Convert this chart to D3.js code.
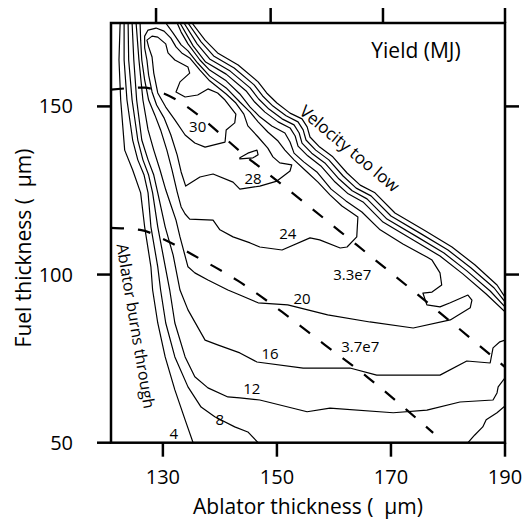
<!DOCTYPE html>
<html><head><meta charset="utf-8">
<script src="https://cdn.jsdelivr.net/npm/d3@7"></script>
<style>body{margin:0;background:#fff}text{font-family:"Open Sans",sans-serif;fill:#000}</style>
</head><body>
<svg id="chart" width="523" height="529"></svg>
<script>
// ---- axes / ticks ----
const xDomain = [120.9, 190];
const yDomain = [50, 174.8];
const xTicks = [130, 150, 170, 190];
const yTicks = [50, 100, 150];
const topTicks = [128.8, 148.9, 168.6, 190];
const rightTicks = [100, 150];

// ---- yield contours (ablator µm, fuel µm) ----
const c4Left = [[122.5,174.8],[122.3,163.8],[122.6,151.9],[123.3,137.0],[124.7,131.1],[126.1,124.3],[126.8,114.2],[127.9,102.3],[128.2,95.4],[129.1,85.6],[130.4,75.5],[132.1,65.7],[133.9,56.8],[135.3,50]];
const c4Upper = [[135.1,174.8],[137.4,169.7],[139.6,165.9],[143.2,162.3],[146.7,157.3],[148.2,154.0],[150.0,151.0],[152.3,148.0],[154.4,146.3],[155.3,143.9],[155.8,140.9],[157.5,137.9],[159.8,135.0],[162.3,130.2],[164.6,126.6],[167.2,124.3],[170.7,118.3],[176.0,113.0],[180.7,108.2],[184.7,102.9],[188.6,96.9],[190,93.3]];
const c8Left = [[123.2,174.8],[123.2,163.8],[123.7,151.9],[124.7,140.0],[125.6,134.1],[126.7,129.6],[127.4,124.3],[127.9,114.2],[129.1,102.3],[129.6,95.4],[130.5,85.6],[132.1,75.5],[134.4,66.6],[136.7,60.6],[139.1,57.7],[142.6,54.7],[144.9,53.2],[146.7,50]];
const c8Right = [[183.5,50],[184.7,52.3],[186.1,54.7],[186.7,56.8],[188.6,58.9],[190,60.9]];
const c8Upper = [[134.4,174.8],[136.7,169.2],[138.9,165.0],[142.5,161.4],[146.0,156.4],[147.5,153.1],[149.3,150.1],[151.6,147.2],[153.7,145.4],[154.6,143.0],[155.1,140.0],[156.8,137.0],[159.1,134.1],[161.6,129.3],[163.9,125.7],[166.5,123.4],[170.0,117.4],[175.3,112.1],[180.0,107.3],[184.0,102.0],[188.1,96.0],[190,91.9]];
const c12Main = [[123.9,174.8],[124.0,163.8],[124.6,151.9],[125.6,140.0],[126.5,134.1],[127.5,129.6],[128.2,124.3],[129.1,114.2],[130.2,104.3],[131.2,95.4],[132.1,85.6],[133.9,75.5],[135.6,69.6],[137.9,66.3],[141.4,63.6],[143.5,63.3],[147.0,62.7],[155.3,59.2],[159.3,60.3],[170.4,58.9],[176.3,59.7],[182.1,62.1],[187.9,62.7],[188.6,64.8],[188.8,66.6],[190,69.3]];
const c12Upper = [[133.7,174.8],[136.0,168.6],[138.2,164.1],[141.8,160.5],[145.3,155.5],[146.8,152.2],[148.6,149.2],[150.9,146.3],[153.0,144.5],[153.9,142.1],[154.4,139.1],[156.1,136.1],[158.4,133.2],[160.9,128.4],[163.2,124.9],[165.8,122.5],[169.3,116.5],[174.6,111.2],[179.3,106.4],[183.3,101.1],[187.4,95.1],[190,90.4]];
const c16Main = [[124.6,174.8],[124.9,163.8],[125.4,151.9],[126.3,140.0],[127.4,134.1],[128.4,129.6],[129.1,124.3],[130.4,114.2],[131.8,105.8],[133.0,95.4],[134.4,89.5],[137.4,80.5],[139.6,79.1],[143.5,76.7],[146.5,74.0],[154.6,72.2],[162.8,72.2],[167.5,70.1],[178.6,70.1],[183.3,74.3],[187.4,73.7],[187.9,78.2],[189.1,80.0],[190,80.5]];
const c16Upper = [[133.0,174.8],[135.3,168.0],[137.5,163.2],[141.1,159.6],[144.6,154.6],[146.1,151.3],[147.9,148.3],[150.2,145.4],[152.3,143.6],[153.2,141.2],[153.7,138.2],[155.4,135.3],[157.7,132.3],[160.2,127.5],[162.5,124.0],[165.1,121.6],[168.6,115.6],[173.9,110.3],[178.6,105.5],[182.6,100.2],[186.7,94.2],[190,88.9]];
const c20 = [[125.3,174.8],[125.8,163.8],[126.5,151.9],[127.4,143.0],[128.4,137.0],[129.5,131.1],[130.5,125.2],[131.4,120.7],[132.3,116.2],[133.0,111.2],[134.4,102.3],[135.6,100.5],[137.9,98.4],[141.4,95.4],[143.5,93.9],[146.7,91.6],[151.9,91.0],[158.9,88.0],[166.3,85.9],[173.9,84.1],[180.4,86.5],[183.9,90.1],[184.2,92.4],[183.5,93.9],[180.4,91.6],[178.6,90.4],[176.3,91.0],[175.6,94.5],[177.2,94.8],[178.9,96.9],[178.6,100.5],[177.2,104.3],[176.3,105.2],[172.1,109.1],[168.1,113.3],[164.9,118.6],[162.1,121.9],[159.5,125.4],[157.0,130.5],[154.7,133.5],[153.0,136.1],[152.3,139.4],[151.4,142.1],[149.1,144.2],[147.0,146.9],[145.3,149.8],[143.5,153.7],[141.1,157.6],[138.2,160.8],[136.5,163.8],[134.4,168.6],[133.2,172.1],[132.5,174.8]];
const c24 = [[126.0,174.8],[126.1,169.7],[126.3,163.8],[126.8,157.9],[127.5,151.9],[128.6,147.4],[129.6,143.0],[130.7,137.0],[131.6,131.1],[132.5,124.6],[133.2,120.1],[133.9,118.0],[134.7,116.5],[138.8,116.2],[140.0,113.3],[142.3,111.2],[145.3,109.4],[147.0,108.2],[150.9,107.3],[155.8,110.9],[157.5,110.3],[161.1,107.9],[162.3,108.2],[164.0,111.2],[164.2,117.1],[163.2,118.3],[161.4,120.4],[159.3,123.7],[157.2,127.5],[155.1,130.8],[153.0,134.1],[151.4,137.0],[150.2,139.7],[148.4,142.4],[146.7,145.4],[145.3,148.3],[143.5,151.3],[141.1,155.5],[138.2,159.0],[136.1,162.9],[134.4,166.5],[133.2,168.3],[131.8,171.8],[130.5,174.8]];
const c28 = [[127.4,172.7],[128.8,173.3],[130.2,172.4],[131.4,170.3],[132.3,167.7],[133.3,165.9],[134.7,164.4],[136.5,160.8],[138.2,157.6],[141.1,153.7],[142.8,151.0],[144.2,147.7],[144.9,144.2],[146.7,140.9],[148.4,137.6],[149.3,135.0],[150.5,133.2],[152.6,132.6],[152.3,130.8],[150.0,127.8],[147.0,126.3],[143.5,125.4],[142.3,127.5],[138.8,129.9],[136.5,129.0],[134.0,126.3],[133.2,130.5],[132.5,135.6],[131.4,141.5],[130.2,146.6],[128.9,150.4],[128.1,154.3],[127.5,159.3],[127.2,163.8],[126.8,167.4],[126.8,170.9]];
const c30 = [[127.2,169.7],[128.1,170.9],[129.1,170.6],[130.5,168.6],[130.9,165.9],[132.1,163.8],[134.4,161.7],[134.7,159.9],[133.0,157.3],[132.3,154.3],[133.9,152.8],[136.1,153.4],[137.9,155.2],[139.6,154.0],[140.9,151.9],[142.8,147.7],[142.6,145.1],[141.1,143.0],[140.9,139.4],[137.4,137.9],[135.6,139.1],[133.9,141.5],[132.1,146.0],[130.5,149.8],[129.1,154.0],[128.4,159.9],[128.1,164.7],[127.5,167.7]];
const c30Island = [[143.5,134.7],[144.9,136.1],[146.5,137.0],[146.7,135.6],[145.8,134.7],[143.5,134.4]];

const openContours = [c4Left,c4Upper,c8Left,c8Right,c8Upper,c12Main,c12Upper,c16Main,c16Upper,c20,c24];
const closedContours = [c28,c30,c30Island];

// ---- implosion velocity lines (dashed) ----
const vel33 = [[120.9,155.0],[126.8,155.6],[129.5,154.3],[145.8,133.5],[164.0,108.8],[178.6,88.6],[190,72.5]];
const vel37 = [[120.9,113.9],[126.0,113.3],[130.4,110.3],[135.3,105.8],[143.2,98.1],[150.9,88.9],[158.4,79.1],[165.8,69.6],[172.8,59.7],[177.4,52.9]];

// ---- labels ----
const contourLabels = ["30","28","24","20","16","12","8","4"];
const contourLabelPos = [[136.1,144.2],[145.8,128.7],[151.9,112.4],[154.4,93.0],[148.8,76.7],[145.6,66.3],[140.0,57.1],[131.9,53.0]];
const velLabels = ["3.3e7","3.7e7"];
const velLabelPos = [[163.2,100.2],[164.6,78.8]];

const svg = d3.select("#chart");
const L = 111, R = 505, T = 23, B = 442.7;
const x = d3.scaleLinear().domain(xDomain).range([L, R]);
const y = d3.scaleLinear().domain(yDomain).range([B, T]);

svg.append("defs").append("clipPath").attr("id","clip")
  .append("rect").attr("x",L).attr("y",T).attr("width",R-L).attr("height",B-T);

const line = d3.line().x(d=>x(d[0])).y(d=>y(d[1])).curve(d3.curveLinear);
const lineClosed = d3.line().x(d=>x(d[0])).y(d=>y(d[1])).curve(d3.curveLinearClosed);
const g = svg.append("g").attr("clip-path","url(#clip)");

g.selectAll("path.open").data(openContours).join("path").attr("class","open")
  .attr("d", line).attr("fill","none").attr("stroke","#000").attr("stroke-width",1.2).attr("stroke-linejoin","round");
g.selectAll("path.closed").data(closedContours).join("path").attr("class","closed")
  .attr("d", lineClosed).attr("fill","none").attr("stroke","#000").attr("stroke-width",1.2).attr("stroke-linejoin","round");

const vline = d3.line().x(d=>x(d[0])).y(d=>y(d[1])).curve(d3.curveMonotoneX);
g.selectAll("path.vel").data([vel33, vel37]).join("path").attr("class","vel")
  .attr("d", vline).attr("fill","none").attr("stroke","#000").attr("stroke-width",2.2).attr("stroke-dasharray","13,14");

// contour labels
svg.selectAll("text.cl").data(contourLabels).join("text").attr("class","cl")
  .attr("x",(d,i)=>x(contourLabelPos[i][0])).attr("y",(d,i)=>y(contourLabelPos[i][1]))
  .attr("text-anchor","middle").attr("dominant-baseline","central").attr("font-size",15).text(d=>d);
svg.selectAll("text.vl").data(velLabels).join("text").attr("class","vl")
  .attr("x",(d,i)=>x(velLabelPos[i][0])).attr("y",(d,i)=>y(velLabelPos[i][1]))
  .attr("text-anchor","middle").attr("dominant-baseline","central").attr("font-size",15).text(d=>d);

// annotations
svg.append("text").attr("transform",`translate(${x(162.8)},${y(137.6)}) rotate(40)`)
  .attr("text-anchor","middle").attr("dominant-baseline","central").attr("font-size",17).text("Velocity too low");
svg.append("text").attr("transform",`translate(${x(125.3)},${y(84.7)}) rotate(80.5)`)
  .attr("text-anchor","middle").attr("dominant-baseline","central").attr("font-size",16).text("Ablator burns through");
svg.append("text").attr("x",416).attr("y",58).attr("text-anchor","middle").attr("font-size",21).text("Yield (MJ)");

// frame
svg.append("rect").attr("x",L).attr("y",T).attr("width",R-L).attr("height",B-T)
  .attr("fill","none").attr("stroke","#000").attr("stroke-width",2.5);

// ticks
const tk = svg.append("g").attr("stroke","#000").attr("stroke-width",2.5);
tk.selectAll("line.bx").data(xTicks).join("line").attr("x1",d=>x(d)).attr("x2",d=>x(d)).attr("y1",B).attr("y2",B+14);
tk.selectAll("line.tx").data(topTicks).join("line").attr("x1",d=>x(d)).attr("x2",d=>x(d)).attr("y1",T).attr("y2",T-15);
tk.selectAll("line.ly").data(yTicks).join("line").attr("x1",L-14).attr("x2",L).attr("y1",d=>y(d)).attr("y2",d=>y(d));
tk.selectAll("line.ry").data(rightTicks).join("line").attr("x1",R).attr("x2",R+14).attr("y1",d=>y(d)).attr("y2",d=>y(d));

svg.selectAll("text.xt").data(xTicks).join("text").attr("class","xt")
  .attr("x",d=>x(d)).attr("y",484).attr("text-anchor","middle").attr("font-size",20).text(d=>d);
svg.selectAll("text.yt").data(yTicks).join("text").attr("class","yt")
  .attr("x",73).attr("y",d=>y(d)+7).attr("text-anchor","end").attr("font-size",20).text(d=>d);

svg.append("text").attr("x",308).attr("y",514).attr("text-anchor","middle").attr("font-size",21)
  .text("Ablator thickness (\u00a0\u00a0\u00b5m)");
svg.append("text").attr("transform","translate(31,248) rotate(-90)").attr("text-anchor","middle").attr("font-size",21)
  .text("Fuel thickness (\u00a0\u00a0\u00b5m)");
</script>
</body></html>
